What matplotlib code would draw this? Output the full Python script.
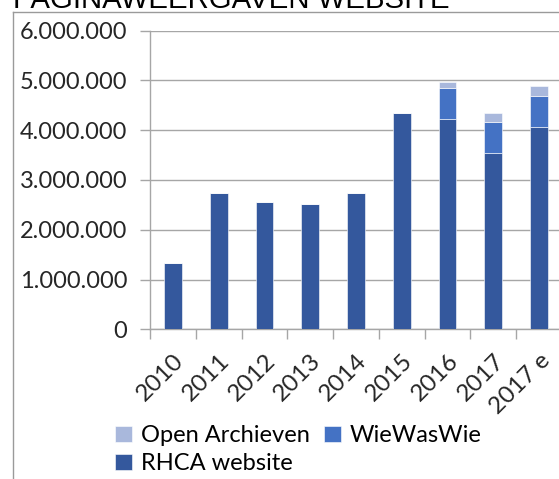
import numpy as np
import matplotlib
matplotlib.use('Agg')
import matplotlib.pyplot as plt
from matplotlib.ticker import FuncFormatter, MultipleLocator, FixedLocator

# data (page views)
JAAR = ['2010', '2011', '2012', '2013', '2014', '2015', '2016', '2017', '2017 e']
RHCA = [1330000, 2740000, 2560000, 2520000, 2740000, 4350000, 4220000, 3550000, 4060000]
WWW  = [0, 0, 0, 0, 0, 0, 620000, 620000, 630000]
OA   = [0, 0, 0, 0, 0, 0, 130000, 180000, 200000]

C_RHCA = '#34589D'; C_WWW = '#4472C4'; C_OA = '#A9B8DC'
C_GRID = '#A6A6A6'; C_TXT = '#262626'
W, H = 559, 479

plt.rcParams['font.family'] = ['Lato', 'DejaVu Sans']
fig = plt.figure(figsize=(W/100, H/100), dpi=100)
fig.patch.set_facecolor('white')

# slide-style frame + cut-off title
fig.add_artist(plt.Line2D([13/W, 1], [1-12/H, 1-12/H], color='#9A9A9A', lw=1))
fig.add_artist(plt.Line2D([13/W, 13/W], [0, 1-12/H], color='#9A9A9A', lw=1))
fig.text(13/W, 1-7.5/H, 'PAGINAWEERGAVEN WEBSITE', family='Liberation Sans',
         fontsize=21.2, color='black', ha='left', va='baseline')

ax = fig.add_axes([150/W, 1-329.3/H, 412/W, (329.3-30.7)/H])
x = np.arange(len(JAAR))
bw = 0.39
rhca = np.array(RHCA); www = np.array(WWW); oa = np.array(OA)
ax.bar(x, rhca, bw, color=C_RHCA, edgecolor='white', lw=0.4, zorder=3, label='RHCA website')
ax.bar(x, www, bw, bottom=rhca, color=C_WWW, edgecolor='white', lw=0.4, zorder=3, label='WieWasWie')
ax.bar(x, oa, bw, bottom=rhca+www, color=C_OA, edgecolor='white', lw=0.4, zorder=3, label='Open Archieven')

ax.set_xlim(-0.5, len(JAAR)-0.5)
ax.set_ylim(0, 6000000)
ax.yaxis.set_major_locator(MultipleLocator(1000000))
ax.yaxis.set_major_formatter(FuncFormatter(lambda v, p: f'{int(v):,}'.replace(',', '.')))
ax.grid(axis='y', color=C_GRID, lw=1, zorder=0)
ax.set_xticks(x)
ax.set_xticklabels(JAAR, rotation=45, ha='right', va='top', rotation_mode='anchor')
ax.xaxis.set_minor_locator(FixedLocator(np.arange(-0.5, len(JAAR), 1)))
ax.tick_params(axis='x', which='major', length=0, pad=15, labelsize=17.5, labelcolor=C_TXT)
ax.tick_params(axis='x', which='minor', length=7.2, width=1, color=C_GRID)
ax.tick_params(axis='y', length=7.2, width=1, color=C_GRID, pad=9, labelsize=17, labelcolor=C_TXT)
for s in ['top', 'right']:
    ax.spines[s].set_visible(False)
for s in ['left', 'bottom']:
    ax.spines[s].set_color(C_GRID); ax.spines[s].set_linewidth(1)

h, l = ax.get_legend_handles_labels()
order = [2, 0, 1]
fig.legend([h[i] for i in order], [l[i] for i in order], ncol=2, frameon=False,
           loc='upper left', bbox_to_anchor=(108/W, 1-418/H), fontsize=17,
           handlelength=0.7, handleheight=0.7, handletextpad=0.4,
           columnspacing=0.6, labelspacing=0.3, borderaxespad=0, borderpad=0.3)

plt.savefig('out.png', dpi=100, facecolor='white')
